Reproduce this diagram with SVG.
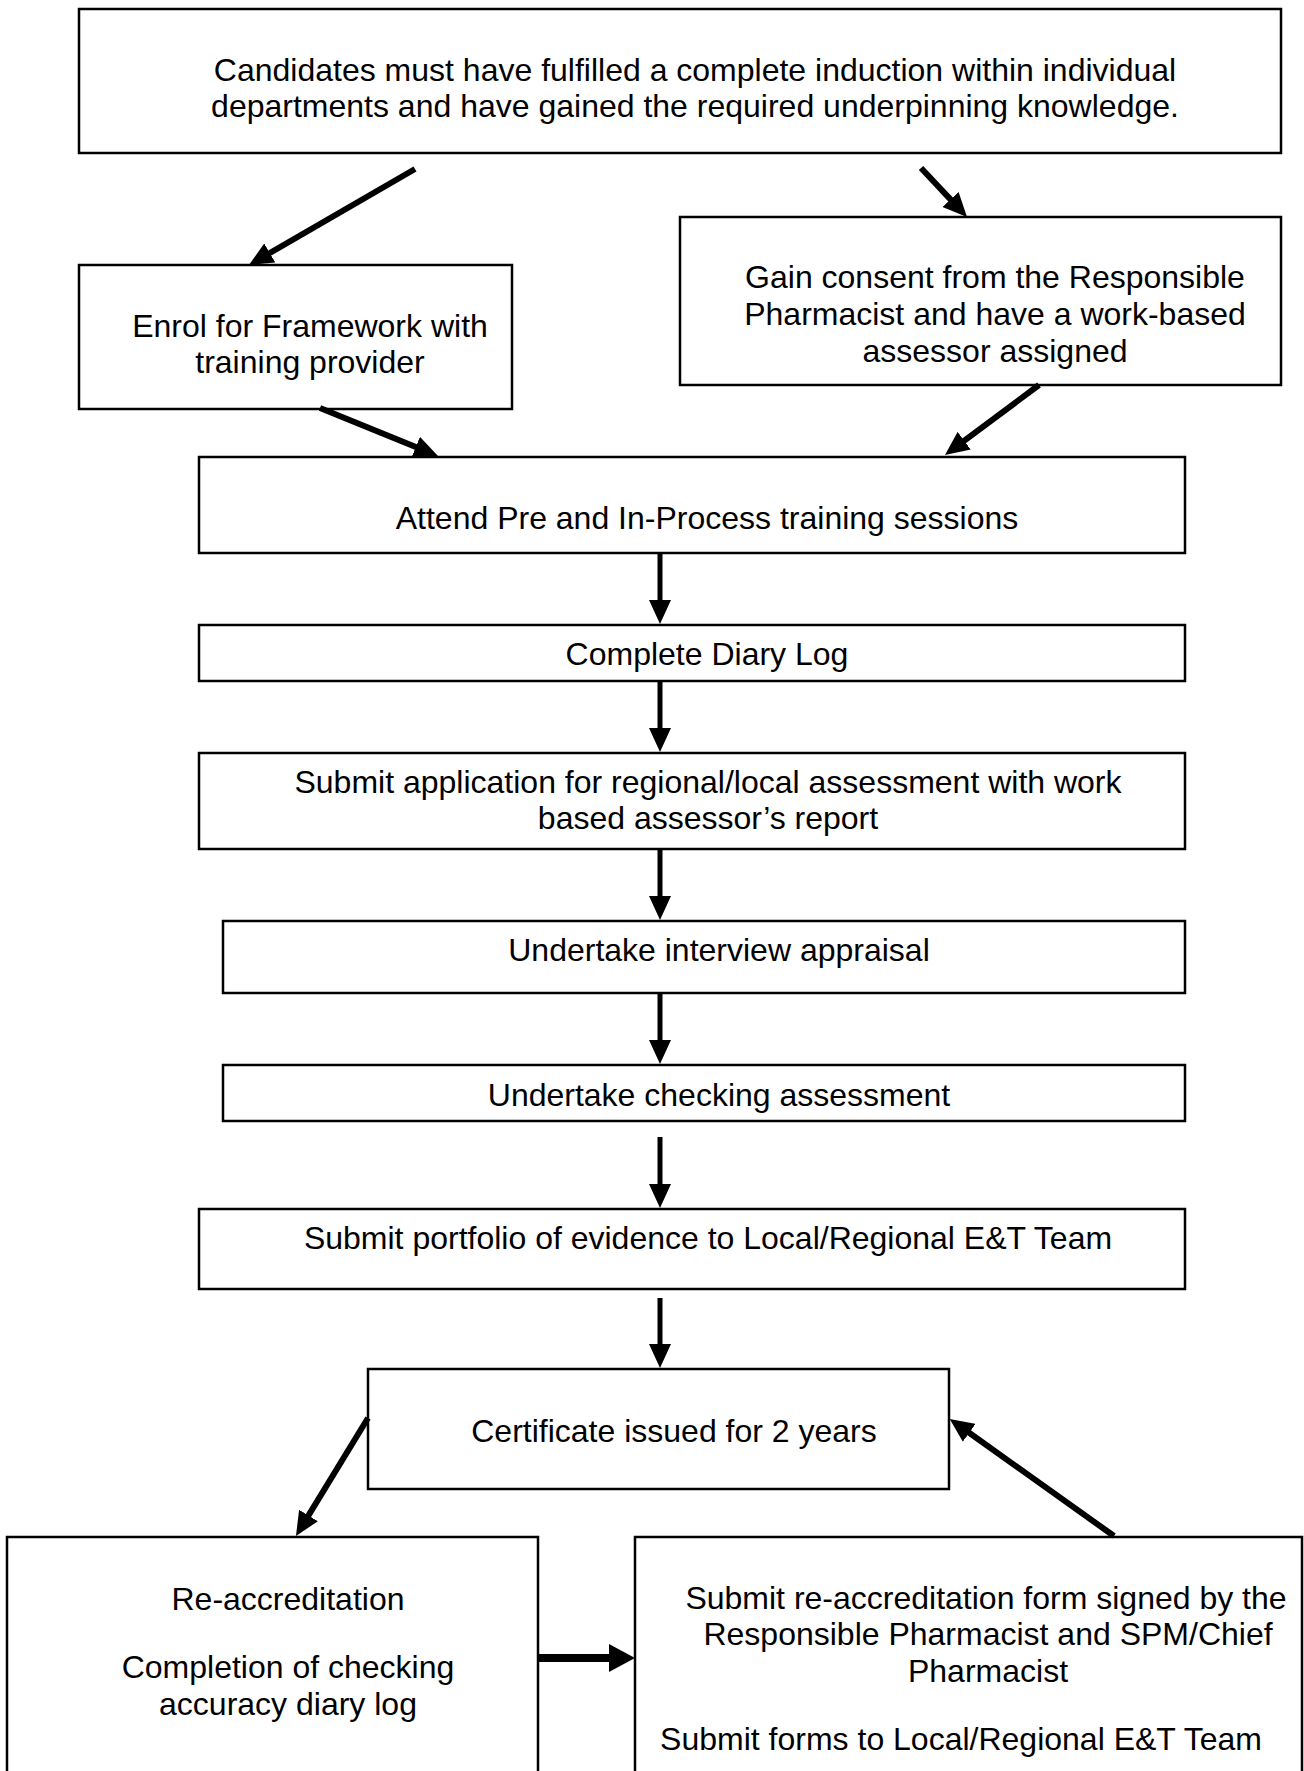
<svg xmlns="http://www.w3.org/2000/svg" width="1304" height="1771" viewBox="0 0 1304 1771">
<style>
.box{fill:#fff;stroke:#000;stroke-width:2.5}
.t{font-family:"Liberation Sans",Arial,sans-serif;font-size:32px;fill:#000;text-anchor:middle}
.a{stroke:#000;stroke-width:6;fill:none;marker-end:url(#ah)}
.v{stroke:#000;stroke-width:5;fill:none;marker-end:url(#ah)}
.h{stroke:#000;stroke-width:8;fill:none;marker-end:url(#ahb)}
</style>
<defs>
<marker id="ah" markerUnits="userSpaceOnUse" markerWidth="24" markerHeight="22" refX="4" refY="11" orient="auto" viewBox="0 0 24 22">
<path d="M0,0 L24,11 L0,22 z" fill="#000"/>
</marker>
<marker id="ahb" markerUnits="userSpaceOnUse" markerWidth="26" markerHeight="28" refX="4" refY="14" orient="auto" viewBox="0 0 26 28">
<path d="M0,0 L26,14 L0,28 z" fill="#000"/>
</marker>
</defs>
<rect width="1304" height="1771" fill="#fff"/>
<g id="n-induction"><rect class="box" x="79" y="9" width="1202" height="144"/>
<text class="t" x="695" y="81">Candidates must have fulfilled a complete induction within individual</text>
<text class="t" x="695" y="117">departments and have gained the required underpinning knowledge.</text></g>
<g id="n-enrol"><rect class="box" x="79" y="265" width="433" height="144"/>
<text class="t" x="310" y="337">Enrol for Framework with</text>
<text class="t" x="310" y="373">training provider</text></g>
<g id="n-consent"><rect class="box" x="680" y="217" width="601" height="168"/>
<text class="t" x="995" y="288">Gain consent from the Responsible</text>
<text class="t" x="995" y="325">Pharmacist and have a work-based</text>
<text class="t" x="995" y="362">assessor assigned</text></g>
<g id="n-attend"><rect class="box" x="199" y="457" width="986" height="96"/>
<text class="t" x="707" y="529">Attend Pre and In-Process training sessions</text></g>
<g id="n-diary"><rect class="box" x="199" y="625" width="986" height="56"/>
<text class="t" x="707" y="665">Complete Diary Log</text></g>
<g id="n-application"><rect class="box" x="199" y="753" width="986" height="96"/>
<text class="t" x="708" y="793">Submit application for regional/local assessment with work</text>
<text class="t" x="708" y="829">based assessor’s report</text></g>
<g id="n-interview"><rect class="box" x="223" y="921" width="962" height="72"/>
<text class="t" x="719" y="961">Undertake interview appraisal</text></g>
<g id="n-checking"><rect class="box" x="223" y="1065" width="962" height="56"/>
<text class="t" x="719" y="1106">Undertake checking assessment</text></g>
<g id="n-portfolio"><rect class="box" x="199" y="1209" width="986" height="80"/>
<text class="t" x="708" y="1249">Submit portfolio of evidence to Local/Regional E&amp;T Team</text></g>
<g id="n-certificate"><rect class="box" x="368" y="1369" width="581" height="120"/>
<text class="t" x="674" y="1442">Certificate issued for 2 years</text></g>
<g id="n-reaccreditation"><rect class="box" x="7" y="1537" width="531" height="260"/>
<text class="t" x="288" y="1610">Re-accreditation</text>
<text class="t" x="288" y="1678">Completion of checking</text>
<text class="t" x="288" y="1715">accuracy diary log</text></g>
<g id="n-submitforms"><rect class="box" x="635" y="1537" width="667" height="260"/>
<text class="t" x="986" y="1609">Submit re-accreditation form signed by the</text>
<text class="t" x="988" y="1645">Responsible Pharmacist and SPM/Chief</text>
<text class="t" x="988" y="1682">Pharmacist</text>
<text class="t" x="961" y="1750">Submit forms to Local/Regional E&amp;T Team</text></g>
<g id="connectors">
<line class="a" x1="415" y1="169" x2="266.3" y2="255"/>
<line class="a" x1="921" y1="168" x2="953.3" y2="202.4"/>
<line class="a" x1="320" y1="408" x2="419.5" y2="448.5"/>
<line class="a" x1="1039" y1="385" x2="961" y2="443.1"/>
<line class="v" x1="660" y1="553" x2="660" y2="604"/>
<line class="v" x1="660" y1="681" x2="660" y2="732"/>
<line class="v" x1="660" y1="849" x2="660" y2="900"/>
<line class="v" x1="660" y1="993" x2="660" y2="1044"/>
<line class="v" x1="660" y1="1137" x2="660" y2="1188"/>
<line class="v" x1="660" y1="1298" x2="660" y2="1348"/>
<line class="a" x1="368" y1="1418" x2="306.4" y2="1518.9"/>
<line class="a" x1="1114" y1="1536" x2="966" y2="1430.5"/>
<line class="h" x1="538" y1="1658" x2="613" y2="1658"/>
</g>
</svg>
